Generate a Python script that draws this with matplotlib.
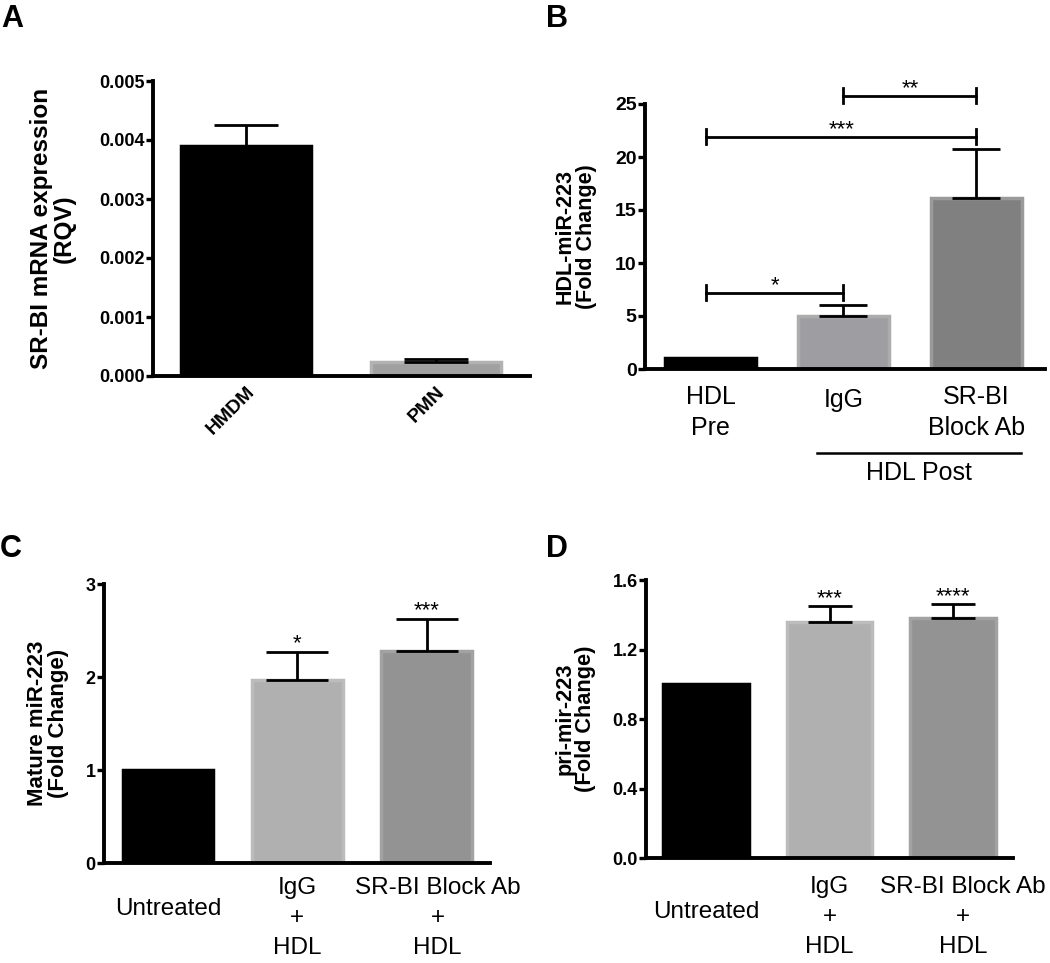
import matplotlib
matplotlib.use('Agg')
import matplotlib.pyplot as plt

plt.rcParams['font.family'] = ['Liberation Sans', 'DejaVu Sans']

# Panel A
a_labels = ['HMDM', 'PMN']
a_values = [0.0039, 0.00023]
a_err = [0.00035, 0.00005]
a_colors = ['#000000', '#a0a0a0']
a_edges = ['#000000', '#b2b2b2']

# Panel B
b_labels = ['HDL\nPre', 'IgG', 'SR-BI\nBlock Ab']
b_values = [1.0, 5.0, 16.1]
b_err = [0.0, 1.05, 4.7]
b_colors = ['#000000', '#9e9ea2', '#808080']
b_edges = ['#000000', '#acacac', '#9a9a9a']
b_sig = [(-0.03, 1.0, 7.2, '*'), (-0.03, 2.0, 21.9, '***'), (1.0, 2.0, 25.8, '**')]

# Panel C
c_labels = ['Untreated', 'IgG\n+\nHDL', 'SR-BI Block Ab\n+\nHDL']
c_values = [1.0, 1.97, 2.28]
c_err = [0.0, 0.30, 0.34]
c_stars = ['', '*', '***']
c_colors = ['#000000', '#b0b0b0', '#939393']
c_edges = ['#000000', '#bcbcbc', '#a2a2a2']

# Panel D
d_labels = ['Untreated', 'IgG\n+\nHDL', 'SR-BI Block Ab\n+\nHDL']
d_values = [1.0, 1.36, 1.38]
d_err = [0.0, 0.09, 0.08]
d_stars = ['', '***', '****']

W, H = 1050, 963


def px_axes(fig, x0, x1, ytop, ybot):
    return fig.add_axes([x0 / W, 1 - ybot / H, (x1 - x0) / W, (ybot - ytop) / H])


def style_axes(ax, ticksize=13):
    for s in ['top', 'right']:
        ax.spines[s].set_visible(False)
    for s in ['left', 'bottom']:
        ax.spines[s].set_linewidth(2.8)
    ax.tick_params(axis='y', width=2.4, length=5, pad=1, labelsize=ticksize)
    ax.tick_params(axis='x', length=0)
    for t in ax.get_yticklabels():
        t.set_fontweight('bold')


def draw_bars(ax, values, err, colors, edges, width, capsize):
    x = list(range(len(values)))
    ax.bar(x, values, width=width, color=colors, edgecolor=edges, linewidth=2.5, zorder=2)
    for xi, v, e in zip(x, values, err):
        if e > 0:
            ax.errorbar(xi, v, yerr=[[0], [e]], fmt='none', ecolor='black',
                        elinewidth=2, capsize=capsize, capthick=2, zorder=3)
    return x


def ylabel(ax, text, size, xpos):
    ax.set_ylabel(text, fontsize=size, fontweight='bold', linespacing=1.0)
    ax.yaxis.set_label_coords(xpos, 0.5)


def xlabels(ax, labels, ys, size, spacing, shifts):
    ax.set_xticks(range(len(labels)))
    ax.set_xticklabels([])
    for i, (lab, y, dx) in enumerate(zip(labels, ys, shifts)):
        ax.text(i + dx, y, lab, transform=ax.get_xaxis_transform(), ha='center',
                va='center', fontsize=size, linespacing=spacing, multialignment='center')


fig = plt.figure(figsize=(10.5, 9.63), dpi=100)

# ---- A
ax = px_axes(fig, 153, 530, 81, 376)
x = draw_bars(ax, a_values, a_err, a_colors, a_edges, 0.68, 23)
ax.set_xlim(-0.489, 1.495)
ax.set_ylim(0, 0.005)
ax.set_yticks([0, 0.001, 0.002, 0.003, 0.004, 0.005])
ax.set_yticklabels(['0.000', '0.001', '0.002', '0.003', '0.004', '0.005'])
ax.set_xticks(x)
ax.set_xticklabels(a_labels, rotation=45, ha='right', rotation_mode='anchor',
                   fontsize=14, fontweight='bold')
ax.tick_params(axis='x', pad=5)
ylabel(ax, 'SR-BI mRNA expression\n(RQV)', 17.5, -0.205)
style_axes(ax)

# ---- B
ax = px_axes(fig, 645, 1045, 104, 369)
x = draw_bars(ax, b_values, b_err, b_colors, b_edges, 0.684, 17)
ax.set_xlim(-0.492, 2.515)
ax.set_ylim(0, 25)
ax.set_yticks([0, 5, 10, 15, 20, 25])
xlabels(ax, b_labels, [-0.164, -0.117, -0.164], 18, 1.33, [0, 0, 0])
ylabel(ax, 'HDL-miR-223\n(Fold Change)', 15.5, -0.12)
style_axes(ax, 14)
for xl, xr, y, s in b_sig:
    ax.plot([xl, xr], [y, y], color='black', lw=2, clip_on=False, zorder=4)
    for xe in (xl, xr):
        ax.plot([xe, xe], [y - 0.7, y + 0.7], color='black', lw=2, clip_on=False, zorder=4)
    ax.text((xl + xr) / 2, y + 0.15, s, ha='center', va='baseline', fontsize=16, clip_on=False)
ax.plot([0.80, 2.335], [-0.317, -0.317], transform=ax.get_xaxis_transform(),
        color='black', lw=1.8, clip_on=False)
ax.text(1.568, -0.392, 'HDL Post', transform=ax.get_xaxis_transform(), ha='center',
        va='center', fontsize=18)

# ---- C
ax = px_axes(fig, 104, 490, 584, 863)
x = draw_bars(ax, c_values, c_err, c_colors, c_edges, 0.70, 22)
ax.set_xlim(-0.495, 2.49)
ax.set_ylim(0, 3)
ax.set_yticks([0, 1, 2, 3])
xlabels(ax, c_labels, [-0.165, -0.197, -0.197], 17.5, 1.49, [0, 0, 0.085])
ylabel(ax, 'Mature miR-223\n(Fold Change)', 16, -0.09)
style_axes(ax)
for xi, v, e, s in zip(x, c_values, c_err, c_stars):
    if s:
        ax.text(xi, v + e + 0.03, s, ha='center', va='baseline', fontsize=16)

# ---- D
ax = px_axes(fig, 646, 1013, 580, 858)
x = draw_bars(ax, d_values, d_err, c_colors, c_edges, 0.696, 15.5)
ax.set_xlim(-0.486, 2.486)
ax.set_ylim(0, 1.6)
ax.set_yticks([0, 0.4, 0.8, 1.2, 1.6])
ax.set_yticklabels(['0.0', '0.4', '0.8', '1.2', '1.6'])
xlabels(ax, d_labels, [-0.194, -0.212, -0.212], 17.5, 1.49, [0, 0, 0.08])
ylabel(ax, 'pri-mir-223\n(Fold Change)', 15.7, -0.135)
style_axes(ax)
for xi, v, e, s in zip(x, d_values, d_err, d_stars):
    if s:
        ax.text(xi, v + e + 0.01, s, ha='center', va='baseline', fontsize=16)

# panel letters
for letter, px, py in [('A', 1, 27), ('B', 546, 27), ('C', 0, 557), ('D', 546, 557)]:
    fig.text(px / W, 1 - py / H, letter, fontsize=22, fontweight='bold', ha='left', va='baseline')

fig.savefig('out.png', dpi=100)
